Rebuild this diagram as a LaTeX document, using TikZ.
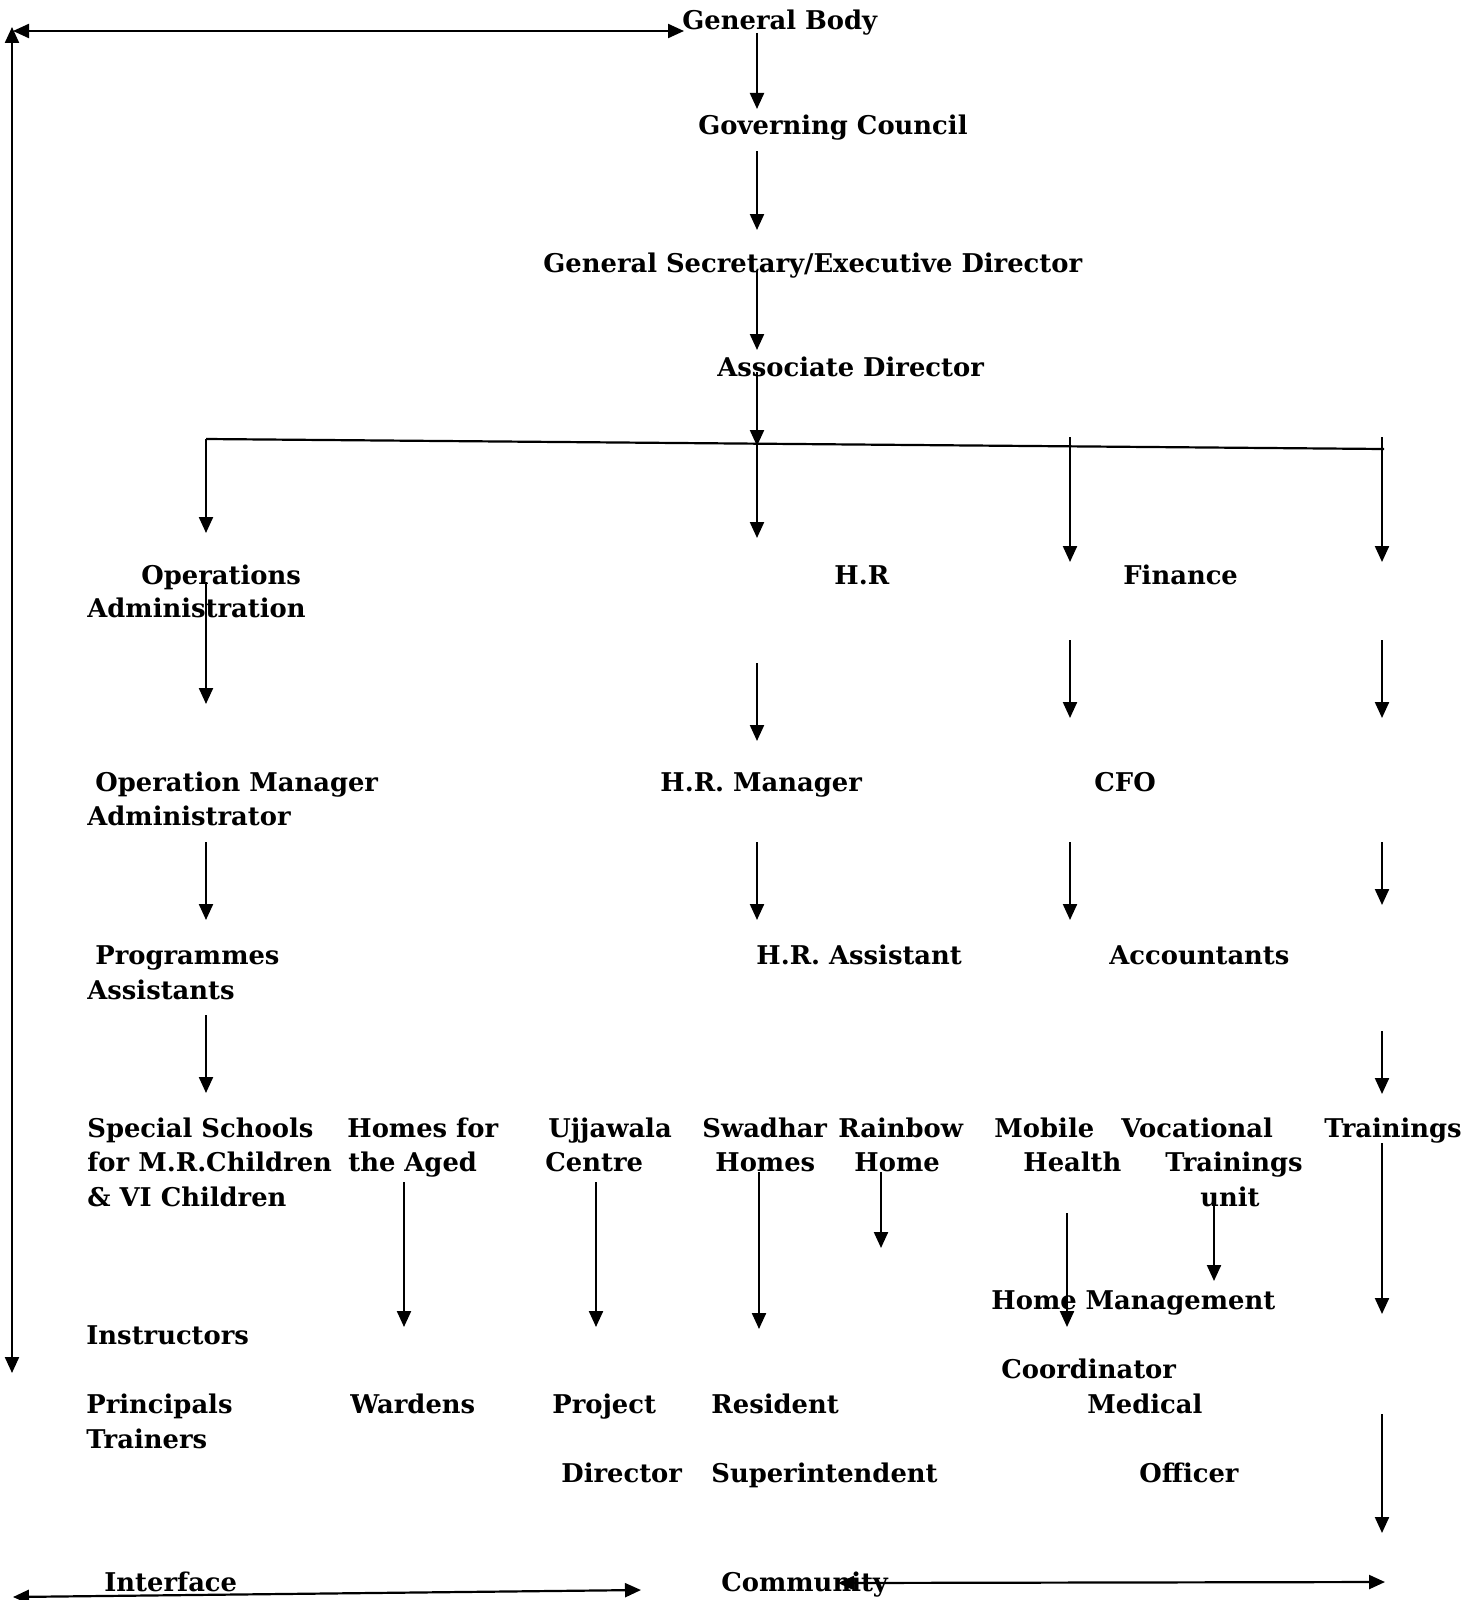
\documentclass[tikz,border=0pt]{standalone}
\usepackage{fontspec}
\setmainfont{DejaVu Serif}
\usetikzlibrary{arrows.meta}

\begin{document}
\begin{tikzpicture}[x=0.5pt,y=-0.5pt,
		lbl/.style={anchor=base west, inner sep=0pt, font=\bfseries\fontsize{12.9}{17}\selectfont},
		arr/.style={line width=1.1pt, -{Triangle[length=8pt, width=7pt]}},
		darr/.style={line width=1.1pt, {Triangle[length=8pt, width=7pt]}-{Triangle[length=8pt, width=7pt]}},
		link/.style={line width=1.1pt},
	]
	\useasboundingbox (0,0) rectangle (1483,1600);
	% top of the chart
	\node[lbl] (gb) at (682,30) {General Body};
	\node[lbl] (gc) at (698,134) {Governing Council};
	\node[lbl] (gs) at (543,272) {General Secretary/Executive Director};
	\node[lbl] (ad) at (717,376) {Associate Director};
	% departments
	\node[lbl] (ops1) at (141,584) {Operations};
	\node[lbl] (ops2) at (87,617) {Administration};
	\node[lbl] (hr) at (834,584) {H.R};
	\node[lbl] (fin) at (1123,584) {Finance};
	\node[lbl] (om1) at (95,791) {Operation Manager};
	\node[lbl] (om2) at (87,825) {Administrator};
	\node[lbl] (hrm) at (660,791) {H.R. Manager};
	\node[lbl] (cfo) at (1094,791) {CFO};
	\node[lbl] (pa1) at (95,964) {Programmes};
	\node[lbl] (pa2) at (87,999) {Assistants};
	\node[lbl] (hra) at (756,964) {H.R. Assistant};
	\node[lbl] (acc) at (1109,964) {Accountants};
	% units
	\node[lbl] (ss1) at (87,1137) {Special Schools};
	\node[lbl] (ss2) at (87,1171) {for M.R.Children};
	\node[lbl] (ss3) at (87,1206) {\& VI Children};
	\node[lbl] (ha1) at (347,1137) {Homes for};
	\node[lbl] (ha2) at (348,1171) {the Aged};
	\node[lbl] (uc1) at (548,1137) {Ujjawala};
	\node[lbl] (uc2) at (545,1171) {Centre};
	\node[lbl] (sh1) at (702,1137) {Swadhar};
	\node[lbl] (sh2) at (715,1171) {Homes};
	\node[lbl] (rh1) at (838,1137) {Rainbow};
	\node[lbl] (rh2) at (854,1171) {Home};
	\node[lbl] (mh1) at (994,1137) {Mobile};
	\node[lbl] (mh2) at (1023,1171) {Health};
	\node[lbl] (vt1) at (1121,1137) {Vocational};
	\node[lbl] (vt2) at (1165,1171) {Trainings};
	\node[lbl] (vt3) at (1200,1206) {unit};
	\node[lbl] (trg) at (1324,1137) {Trainings};
	% staff
	\node[lbl] (hm) at (991,1309) {Home Management};
	\node[lbl] (ins) at (86,1344) {Instructors};
	\node[lbl] (co) at (1001,1378) {Coordinator};
	\node[lbl] (pr) at (86,1413) {Principals};
	\node[lbl] (trn) at (86,1448) {Trainers};
	\node[lbl] (wd) at (350,1413) {Wardens};
	\node[lbl] (pj1) at (552,1413) {Project};
	\node[lbl] (pj2) at (561,1482) {Director};
	\node[lbl] (rs1) at (711,1413) {Resident};
	\node[lbl] (rs2) at (711,1482) {Superintendent};
	\node[lbl] (mo1) at (1087,1413) {Medical};
	\node[lbl] (mo2) at (1139,1482) {Officer};
	% bottom
	\node[lbl] (intf) at (104,1591) {Interface};
	\node[lbl] (comm) at (721,1591) {Community};

	% frame arrows
	\coordinate (frm-t) at (12,27);
	\coordinate (frm-b) at (12,1373);
	\coordinate (top-l) at (13,31);
	\coordinate (top-r) at (684,31);
	\coordinate (int-l) at (13,1597);
	\coordinate (int-r) at (641,1590);
	\coordinate (com-l) at (838,1583);
	\coordinate (com-r) at (1385,1582);
	\draw[darr] (frm-b) -- (frm-t);
	\draw[darr] (top-l) -- (top-r);
	\draw[darr] (int-l) -- (int-r);
	\draw[darr] (com-l) -- (com-r);

	% branch line
	\coordinate (br-l) at (206,439);
	\coordinate (br-r) at (1384,449);
	\draw[link] (br-l) -- (br-r);

	% down arrows
	\foreach \n/\x/\ya/\yb in {a1/757/33/109, a2/757/151/230, a3/757/270/350, a4/757/372/446,
			b1/206/439/533, b2/757/444/538, b3/1070/437/562, b4/1382/437/562,
			c1/206/582/704, c2/757/663/741, c3/1070/640/718, c4/1382/640/718,
			d1/206/842/920, d2/757/842/920, d3/1070/842/920, d4/1382/842/905,
			e1/206/1015/1093, e4/1382/1031/1094,
			f1/404/1182/1327, f2/596/1182/1327, f3/759/1172/1329, f4/881/1172/1248,
			f5/1067/1213/1327, f6/1214/1194/1281, f7/1382/1143/1314, f8/1382/1414/1533}{
		\coordinate (\n-s) at (\x,\ya);
		\coordinate (\n-e) at (\x,\yb);
		\draw[arr] (\n-s) -- (\n-e);
	}
\end{tikzpicture}
\end{document}
